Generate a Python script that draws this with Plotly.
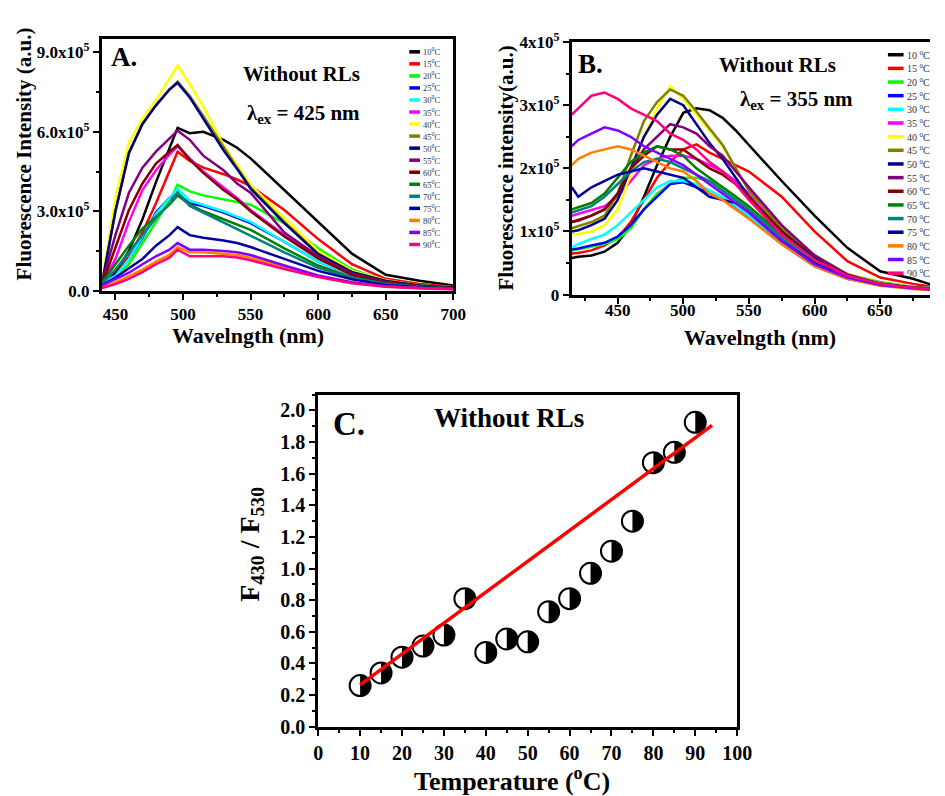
import math
import plotly.graph_objects as go

W, H = 945, 796
SERIF = "Liberation Serif"

# ---------------- data ----------------
temps = [10, 15, 20, 25, 30, 35, 40, 45, 50, 55, 60, 65, 70, 75, 80, 85, 90]
colors = ["#000000", "#ff0000", "#00ff00", "#0000ff", "#00ffff", "#ff00ff",
          "#ffff00", "#808000", "#000080", "#800080", "#800000", "#008000",
          "#008080", "#0000a0", "#ff8000", "#8000ff", "#ff0080"]

# Panel A: emission spectra, excitation 425 nm (intensity in units of 1e5)
wl_a = [440, 450, 460, 470, 480, 490, 496, 505, 515, 530, 540, 550, 575, 600, 625, 650, 675, 700]
a_10 = [0.15, 0.7, 1.5, 2.7, 4.1, 5.4, 6.15, 5.95, 6.0, 5.7, 5.4, 5.0, 3.8, 2.6, 1.4, 0.6, 0.38, 0.2]
a_15 = [0.1, 0.6, 1.3, 2.2, 3.3, 4.5, 5.25, 4.9, 4.65, 4.4, 4.2, 3.95, 3.05, 1.95, 1.0, 0.45, 0.25, 0.15]
a_20 = [0.2, 0.5, 1.0, 1.8, 2.6, 3.4, 4.0, 3.75, 3.6, 3.45, 3.35, 3.25, 2.55, 1.6, 0.8, 0.38, 0.2, 0.12]
a_25 = [0.25, 0.6, 1.2, 2.0, 2.95, 3.5, 3.65, 3.3, 3.2, 2.95, 2.75, 2.55, 1.85, 1.1, 0.6, 0.3, 0.17, 0.1]
a_30 = [0.3, 0.55, 1.2, 2.05, 2.9, 3.5, 3.85, 3.4, 3.25, 3.0, 2.8, 2.6, 1.85, 1.1, 0.61, 0.31, 0.17, 0.1]
a_35 = [0.2, 1.2, 2.6, 3.8, 4.55, 5.15, 5.45, 5.0, 4.5, 3.9, 3.5, 3.05, 2.1, 1.25, 0.6, 0.3, 0.17, 0.1]
a_40 = [0.3, 3.5, 5.6, 6.5, 7.2, 8.0, 8.5, 7.8, 6.95, 5.5, 4.75, 4.0, 2.75, 1.5, 0.75, 0.4, 0.2, 0.12]
a_45 = [0.25, 3.0, 5.2, 6.3, 7.0, 7.6, 7.9, 7.35, 6.6, 5.4, 4.65, 3.9, 2.6, 1.4, 0.7, 0.38, 0.2, 0.12]
a_50 = [0.25, 3.0, 5.2, 6.3, 7.0, 7.6, 7.85, 7.3, 6.5, 5.3, 4.6, 3.85, 2.55, 1.38, 0.7, 0.37, 0.2, 0.12]
a_55 = [0.3, 2.1, 3.7, 4.65, 5.25, 5.75, 6.05, 5.7, 5.1, 4.55, 4.05, 3.7, 2.2, 1.3, 0.65, 0.33, 0.18, 0.1]
a_60 = [0.2, 1.6, 3.05, 4.05, 4.8, 5.25, 5.5, 4.95, 4.45, 3.8, 3.45, 3.0, 2.05, 1.22, 0.6, 0.3, 0.17, 0.1]
a_65 = [0.3, 1.0, 1.7, 2.35, 2.8, 3.25, 3.6, 3.25, 3.0, 2.7, 2.5, 2.3, 1.6, 0.95, 0.5, 0.26, 0.15, 0.08]
a_70 = [0.25, 0.8, 1.45, 2.1, 2.75, 3.3, 3.72, 3.2, 2.95, 2.6, 2.35, 2.1, 1.45, 0.86, 0.49, 0.25, 0.14, 0.08]
a_75 = [0.2, 0.5, 0.85, 1.2, 1.7, 2.1, 2.4, 2.1, 2.0, 1.9, 1.8, 1.65, 1.2, 0.75, 0.43, 0.22, 0.13, 0.08]
a_80 = [0.15, 0.32, 0.55, 0.8, 1.1, 1.35, 1.65, 1.45, 1.45, 1.4, 1.35, 1.25, 0.9, 0.55, 0.3, 0.16, 0.1, 0.06]
a_85 = [0.2, 0.44, 0.68, 1.0, 1.3, 1.55, 1.8, 1.55, 1.55, 1.5, 1.45, 1.35, 0.95, 0.58, 0.32, 0.17, 0.1, 0.06]
a_90 = [0.1, 0.25, 0.45, 0.7, 1.0, 1.25, 1.55, 1.3, 1.3, 1.3, 1.25, 1.15, 0.82, 0.52, 0.28, 0.15, 0.09, 0.05]
spectra_a = [a_10, a_15, a_20, a_25, a_30, a_35, a_40, a_45, a_50,
             a_55, a_60, a_65, a_70, a_75, a_80, a_85, a_90]

# Panel B: emission spectra, excitation 355 nm (intensity in units of 1e5)
wl_b = [415, 420, 430, 440, 450, 460, 470, 480, 490, 500, 510, 520, 530, 540, 550, 575, 600, 625, 650, 675, 690]
b_10 = [0.58, 0.6, 0.62, 0.68, 0.82, 1.1, 1.55, 2.05, 2.5, 2.88, 2.95, 2.92, 2.8, 2.6, 2.37, 1.8, 1.25, 0.74, 0.37, 0.25, 0.15]
b_15 = [0.65, 0.66, 0.7, 0.78, 0.9, 1.15, 1.5, 1.85, 2.1, 2.3, 2.38, 2.25, 2.15, 2.05, 1.95, 1.55, 1.0, 0.53, 0.27, 0.17, 0.12]
b_20 = [0.7, 0.72, 0.75, 0.8, 0.88, 1.05, 1.35, 1.6, 1.75, 1.85, 1.85, 1.8, 1.7, 1.55, 1.35, 0.94, 0.63, 0.32, 0.2, 0.12, 0.1]
b_25 = [0.72, 0.73, 0.78, 0.82, 0.92, 1.1, 1.35, 1.55, 1.75, 1.78, 1.7, 1.6, 1.5, 1.38, 1.22, 0.8, 0.45, 0.25, 0.15, 0.1, 0.08]
b_30 = [0.75, 0.8, 0.88, 0.95, 1.1, 1.3, 1.5, 1.7, 1.8, 1.8, 1.75, 1.65, 1.55, 1.4, 1.25, 0.85, 0.48, 0.26, 0.15, 0.1, 0.08]
b_35 = [1.25, 1.28, 1.35, 1.4, 1.55, 1.8, 2.05, 2.15, 2.2, 2.2, 2.15, 2.05, 1.95, 1.8, 1.6, 1.05, 0.6, 0.32, 0.18, 0.12, 0.1]
b_40 = [0.95, 0.96, 1.0, 1.1, 1.35, 1.9, 2.5, 2.95, 3.3, 3.1, 2.85, 2.6, 2.35, 2.0, 1.65, 1.05, 0.62, 0.33, 0.18, 0.12, 0.1]
b_45 = [1.05, 1.08, 1.15, 1.25, 1.6, 2.2, 2.75, 3.05, 3.25, 3.15, 2.9, 2.63, 2.37, 2.0, 1.65, 1.05, 0.6, 0.32, 0.18, 0.12, 0.1]
b_50 = [1.0, 1.02, 1.1, 1.2, 1.5, 2.0, 2.5, 2.85, 3.1, 3.0, 2.7, 2.4, 2.15, 1.85, 1.55, 1.0, 0.58, 0.3, 0.17, 0.11, 0.1]
b_55 = [1.15, 1.17, 1.25, 1.35, 1.6, 2.0, 2.3, 2.5, 2.7, 2.65, 2.55, 2.35, 2.2, 1.95, 1.7, 1.1, 0.62, 0.32, 0.17, 0.11, 0.1]
b_60 = [1.15, 1.18, 1.25, 1.35, 1.6, 2.0, 2.2, 2.35, 2.3, 2.3, 2.15, 2.0, 1.9, 1.75, 1.55, 1.0, 0.56, 0.3, 0.17, 0.11, 0.09]
b_65 = [1.35, 1.38, 1.45, 1.6, 1.85, 2.1, 2.25, 2.35, 2.3, 2.2, 2.0, 1.85, 1.7, 1.55, 1.4, 0.95, 0.55, 0.3, 0.17, 0.11, 0.09]
b_70 = [1.3, 1.33, 1.4, 1.55, 1.75, 1.95, 2.1, 2.15, 2.1, 2.0, 1.9, 1.8, 1.65, 1.5, 1.35, 0.9, 0.5, 0.27, 0.15, 0.1, 0.08]
b_75 = [1.7, 1.55, 1.7, 1.8, 1.9, 1.95, 2.0, 1.95, 1.9, 1.85, 1.7, 1.55, 1.5, 1.45, 1.3, 0.85, 0.5, 0.28, 0.16, 0.1, 0.08]
b_80 = [2.05, 2.15, 2.25, 2.3, 2.35, 2.3, 2.2, 2.1, 2.0, 1.95, 1.8, 1.6, 1.5, 1.35, 1.2, 0.8, 0.45, 0.25, 0.14, 0.09, 0.07]
b_85 = [2.35, 2.45, 2.55, 2.65, 2.6, 2.5, 2.35, 2.25, 2.15, 2.05, 1.9, 1.75, 1.6, 1.45, 1.3, 0.85, 0.48, 0.27, 0.15, 0.1, 0.08]
b_90 = [2.85, 2.95, 3.15, 3.2, 3.1, 2.95, 2.85, 2.75, 2.55, 2.45, 2.3, 2.1, 1.95, 1.75, 1.5, 0.95, 0.55, 0.3, 0.17, 0.11, 0.09]
spectra_b = [b_10, b_15, b_20, b_25, b_30, b_35, b_40, b_45, b_50,
             b_55, b_60, b_65, b_70, b_75, b_80, b_85, b_90]
ticks_b = [450, 500, 550, 600, 650]

# Panel C: intensity ratio F430/F530 vs temperature, with linear fit
ratio_c = [0.26, 0.34, 0.44, 0.51, 0.58, 0.81, 0.47, 0.555, 0.537,
           0.727, 0.81, 0.97, 1.11, 1.30, 1.67, 1.735, 1.925]
fit_t = [10, 94]
fit_ratio = [0.265, 1.905]

# ---------------- layout helpers ----------------
def fx(px):
    return px / W

def fy(py):
    return 1 - py / H

A_BOX = (99, 28, 458, 287)   # left, top, right, bottom in px
B_BOX = (579, 31, 945, 291)
C_BOX = (320, 394, 748, 736)
A_X, A_Y = [440, 700], [0, 9.5]
B_X, B_Y = [415, 688], [0, 4.0]
C_X, C_Y = [0, 100], [0, 2.1]

def axis(box, horizontal, rng, size=17, **kw):
    l, t, r, b = box
    dom = [fx(l), fx(r)] if horizontal else [fy(b), fy(t)]
    d = dict(domain=dom, range=rng, showline=True, linecolor="black",
             linewidth=3, mirror=True, ticks="outside", ticklen=6,
             tickwidth=2, tickcolor="black", showgrid=False, zeroline=False,
             fixedrange=True,
             tickfont=dict(family=SERIF, size=size, color="black", weight="bold"))
    d.update(kw)
    return d

def minor(step, start):
    return dict(ticks="outside", ticklen=3, tickwidth=1.5, dtick=step,
                tick0=start, tickcolor="black")

fig = go.Figure()

for temp, col, ys in zip(temps, colors, spectra_a):
    fig.add_trace(go.Scatter(x=wl_a, y=ys, mode="lines", xaxis="x", yaxis="y",
                             line=dict(color=col, width=2.5), showlegend=False,
                             name=f"{temp} °C"))
for temp, col, ys in zip(temps, colors, spectra_b):
    fig.add_trace(go.Scatter(x=wl_b, y=ys, mode="lines", xaxis="x2", yaxis="y2",
                             line=dict(color=col, width=2.5), showlegend=False,
                             name=f"{temp} °C"))

# Panel C: half-filled circles (white disc + black right half)
fig.add_trace(go.Scatter(x=temps, y=ratio_c, mode="markers", xaxis="x3", yaxis="y3",
                         marker=dict(symbol="circle", size=21, color="white",
                                     line=dict(color="black", width=2)),
                         showlegend=False))
ux = (C_X[1] - C_X[0]) / (C_BOX[2] - C_BOX[0])   # data units per px
uy = (C_Y[1] - C_Y[0]) / (C_BOX[3] - C_BOX[1])
rad = 10.0
hx, hy = [], []
for t, v in zip(temps, ratio_c):
    for k in range(0, 19):
        a = math.radians(-90 + k * 10)
        hx.append(t + rad * ux * math.cos(a))
        hy.append(v + rad * uy * math.sin(a))
    hx.append(None)
    hy.append(None)
fig.add_trace(go.Scatter(x=hx, y=hy, mode="lines", fill="toself", fillcolor="black",
                         line=dict(color="black", width=1), xaxis="x3", yaxis="y3",
                         showlegend=False, hoverinfo="skip"))
fig.add_trace(go.Scatter(x=fit_t, y=fit_ratio, mode="lines", xaxis="x3", yaxis="y3",
                         line=dict(color="#ff0000", width=3.5), showlegend=False))

sup5 = "x10<sup>5</sup>"
fig.update_layout(
    width=W, height=H, autosize=False,
    margin=dict(l=0, r=0, t=0, b=0),
    paper_bgcolor="white", plot_bgcolor="white",
    xaxis=axis(A_BOX, True, A_X, anchor="y", tickvals=[450, 500, 550, 600, 650, 700],
               minor=minor(25, 450)),
    yaxis=axis(A_BOX, False, A_Y, anchor="x", tickvals=[0, 3, 6, 9],
               ticktext=["0.0", "3.0" + sup5, "6.0" + sup5, "9.0" + sup5],
               minor=minor(1.5, 0)),
    xaxis2=axis(B_BOX, True, B_X, anchor="y2", tickvals=ticks_b, showticklabels=False,
                minor=minor(25, 450)),
    yaxis2=axis(B_BOX, False, B_Y, anchor="x2", mirror=False, tickvals=[0, 1, 2, 3, 4],
                ticktext=["0", "1" + sup5, "2" + sup5, "3" + sup5, "4" + sup5],
                minor=minor(0.5, 0)),
    xaxis3=axis(C_BOX, True, C_X, size=20, anchor="y3", dtick=10, tick0=0,
                minor=minor(5, 0)),
    yaxis3=axis(C_BOX, False, C_Y, size=20, anchor="x3", dtick=0.2, tick0=0,
                tickformat=".1f", minor=minor(0.1, 0)),
)

ann = []
shapes = []

def text(px, py, s, size, anchor="center", angle=0, color="black", bold=True):
    ann.append(dict(x=fx(px), y=fy(py), xref="paper", yref="paper", text=s,
                    showarrow=False, xanchor=anchor, yanchor="middle",
                    textangle=angle,
                    font=dict(family=SERIF, size=size, color=color,
                              weight="bold" if bold else "normal")))

# panel B wavelength labels sit close to the axis line
for v in ticks_b:
    px = B_BOX[0] + (v - B_X[0]) / (B_X[1] - B_X[0]) * (B_BOX[2] - B_BOX[0])
    text(px, 307, str(v), 17)

# panel labels and annotations
text(106, 46, "A.", 27, anchor="left")
text(303, 64, "Without RLs", 21)
text(305, 105, "λ<sub>ex</sub> = 425 nm", 21)
text(583, 54, "B.", 27, anchor="left")
text(789, 55, "Without RLs", 21)
text(809, 91, "λ<sub>ex</sub> = 355 nm", 21)
text(333, 424, "C.", 33, anchor="left")
text(515, 418, "Without RLs", 27)

# axis titles
text(19, 146, "Fluorescence Intensity (a.u.)", 21, angle=-90)
text(248, 333, "Wavelngth (nm)", 22)
text(512, 161, "Fluorescence intensity(a.u.)", 21, angle=-90)
text(771, 335, "Wavelngth (nm)", 22)
text(251, 548, "F<sub>430</sub> / F<sub>530</sub>", 28, angle=-90)
text(518, 790, "Temperature (<sup>o</sup>C)", 26)

# legends
for i, (temp, col) in enumerate(zip(temps, colors)):
    ya = 41 + i * 12.4
    shapes.append(dict(type="line", xref="paper", yref="paper", x0=fx(413), x1=fx(424),
                       y0=fy(ya), y1=fy(ya), line=dict(color=col, width=3.5)))
    text(425, ya, f"{temp}<sup>0</sup>C", 8.5, anchor="left", color="#333333", bold=False)
    yb = 44 + i * 14.06
    shapes.append(dict(type="line", xref="paper", yref="paper", x0=fx(902), x1=fx(918),
                       y0=fy(yb), y1=fy(yb), line=dict(color=col, width=3.5)))
    text(919, yb, f"{temp} <sup>0</sup>C", 10, anchor="left", color="#333333", bold=False)

fig.update_layout(annotations=ann, shapes=shapes)
fig.write_html("out.html")
